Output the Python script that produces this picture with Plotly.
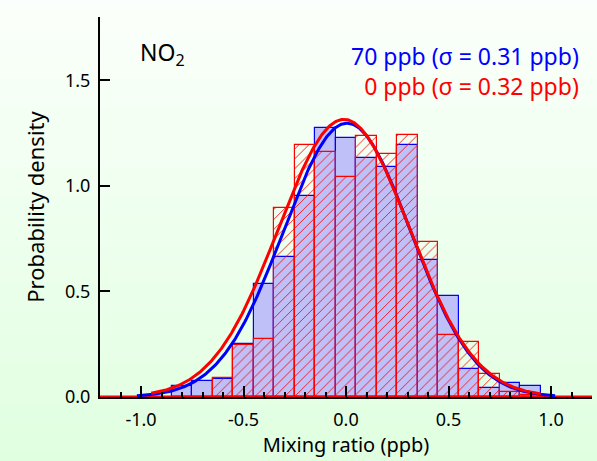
import plotly.graph_objects as go
import numpy as np

# ---- data ----
bin_centers = [-0.8, -0.7, -0.6, -0.5, -0.4, -0.3, -0.2, -0.1, 0.0,
               0.1, 0.2, 0.3, 0.4, 0.5, 0.6, 0.7, 0.8, 0.9]
density_70ppb = [0.052, 0.076, 0.085, 0.25, 0.535, 0.665, 0.951, 1.273, 1.226,
                 1.134, 1.089, 1.193, 0.649, 0.479, 0.134, 0.041, 0.065, 0.054]
density_0ppb = [0.0, 0.0, 0.090, 0.245, 0.273, 0.894, 1.193, 1.161, 1.044,
                1.234, 1.150, 1.243, 0.736, 0.294, 0.262, 0.108, 0.025, 0.010]

# Gaussian fit parameters (amplitude, mean, sigma)
fit_70ppb = dict(amp=1.297, mu=0.005, sigma=0.31, xmin=-1.02, xmax=1.02)
fit_0ppb = dict(amp=1.315, mu=-0.01, sigma=0.32, xmin=-0.95, xmax=0.95)

x_tickvals = [-1.0, -0.5, 0.0, 0.5, 1.0]
x_ticktext = ["-1.0", "-0.5", "0.0", "0.5", "1.0"]
y_tickvals = [0.0, 0.5, 1.0, 1.5]
y_ticktext = ["0.0", "0.5", "1.0", "1.5"]

label_70 = "70 ppb (σ = 0.31 ppb)"
label_0 = "0 ppb (σ = 0.32 ppb)"

FONT = "Noto Sans"
W, H = 597, 461
ML, MR, MT, MB = 100, 5, 17, 64

def gauss(p, n=400):
    x = np.linspace(p["xmin"], p["xmax"], n)
    y = p["amp"] * np.exp(-0.5 * ((x - p["mu"]) / p["sigma"]) ** 2)
    return x, y

fig = go.Figure()

# blue histogram (filled)
fig.add_trace(go.Bar(
    x=bin_centers, y=density_70ppb, width=0.1,
    marker=dict(color="#c0c0f8", line=dict(color="#0000ff", width=1.2)),
    showlegend=False,
))
# red histogram (hatched)
fig.add_trace(go.Bar(
    x=bin_centers, y=density_0ppb, width=0.1,
    marker=dict(color="rgba(0,0,0,0)",
                line=dict(color="#ff0000", width=1.2),
                pattern=dict(shape="/", fgcolor="#ff0000", bgcolor="rgba(0,0,0,0)",
                             size=7, solidity=0.12, fillmode="replace")),
    showlegend=False,
))
# red baseline
fig.add_trace(go.Scatter(x=[-1.2, 1.2], y=[0, 0], mode="lines",
                         line=dict(color="#ff0000", width=3), showlegend=False))
xb, yb = gauss(fit_70ppb)
fig.add_trace(go.Scatter(x=xb, y=yb, mode="lines",
                         line=dict(color="#0000ff", width=3), showlegend=False))
xr, yr = gauss(fit_0ppb)
fig.add_trace(go.Scatter(x=xr, y=yr, mode="lines",
                         line=dict(color="#ff0000", width=3), showlegend=False))

# background vertical gradient
shapes = []
pw = W - ML - MR
ph = H - MT - MB
nstrip = 47
for i in range(nstrip):
    p0 = i * H / nstrip
    p1 = (i + 1) * H / nstrip + 0.5
    t = (p0 + p1) / 2 / H
    r = int(round(251 - (251 - 224) * t))
    col = f"rgb({r},255,{r})"
    shapes.append(dict(type="rect", xref="paper", yref="paper",
                       x0=-ML / pw, x1=1 + MR / pw,
                       y0=(H - MB - p1) / ph, y1=(H - MB - p0) / ph,
                       fillcolor=col, line=dict(width=0), layer="below"))

annotations = [
    dict(text=(f"<span style='color:#0000ff'>{label_70}</span><br>"
               f"<span style='color:#ff0000'>{label_0}</span>"),
         xref="paper", yref="paper", align="right",
         x=(581 - ML) / pw, y=(H - MB - 71) / ph, xanchor="right", yanchor="middle",
         showarrow=False, font=dict(family=FONT, size=23)),
    dict(text="NO<sub>2</sub>", xref="paper", yref="paper",
         x=(138 - ML) / pw, y=(H - MB - 54) / ph, xanchor="left", yanchor="middle",
         showarrow=False, font=dict(family=FONT, size=23, color="#000000")),
]

fig.update_layout(
    width=W, height=H,
    margin=dict(l=ML, r=MR, t=MT, b=MB, pad=0),
    paper_bgcolor="#f0fff0", plot_bgcolor="rgba(0,0,0,0)",
    barmode="overlay", bargap=0,
    shapes=shapes, annotations=annotations,
    font=dict(family=FONT, size=18, color="#000000"),
    xaxis=dict(range=[-1.2, 1.2], tickvals=x_tickvals, ticktext=x_ticktext,
               ticks="inside", ticklen=11, tickwidth=2, tickcolor="#000",
               showline=True, linewidth=2, linecolor="#000", showgrid=False,
               zeroline=False, ticklabelstandoff=5, automargin=False,
               minor=dict(dtick=0.1, tick0=0, ticks="inside", ticklen=5, tickwidth=2,
                          tickcolor="#000", showgrid=False),
               title=dict(text="Mixing ratio (ppb)", font=dict(family=FONT, size=20),
                          standoff=1),
               tickfont=dict(family=FONT, size=18)),
    yaxis=dict(range=[0, 1.8], tickvals=y_tickvals, ticktext=y_ticktext,
               ticks="inside", ticklen=10, tickwidth=2, tickcolor="#000",
               showline=True, linewidth=2, linecolor="#000", showgrid=False,
               zeroline=False, ticklabelstandoff=4, automargin=False,
               title=dict(text="Probability density", font=dict(family=FONT, size=22),
                          standoff=14),
               tickfont=dict(family=FONT, size=18)),
)

fig.write_html("out.html", config={"displayModeBar": False},
               post_script="document.body.style.margin='0';document.body.style.overflow='hidden';")
